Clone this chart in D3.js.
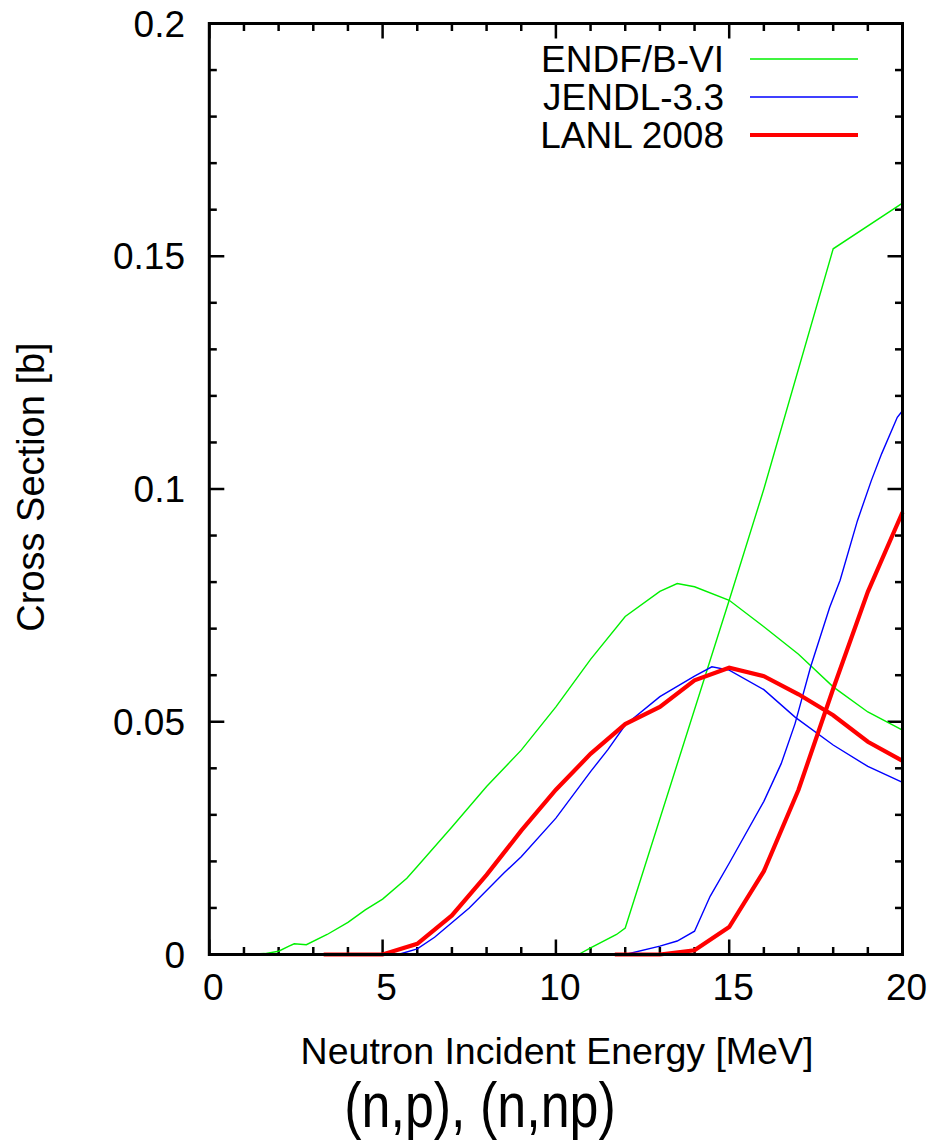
<!DOCTYPE html>
<html>
<head>
<meta charset="utf-8">
<script src="https://cdn.jsdelivr.net/npm/d3@7"></script>
<style>
html,body{margin:0;padding:0;background:#fff;}
svg{display:block;}
text{font-family:"Liberation Sans",Arial,sans-serif;fill:#000;}
</style>
</head>
<body>
<svg id="chart" width="934" height="1147"></svg>
<script>
// ---- data ----
const seriesNames = ["ENDF/B-VI", "JENDL-3.3", "LANL 2008"];
const seriesColors = ["#00f000", "#0000ff", "#ff0000"];

const endfNpE   = [1.0,1.6,2.0,2.3,2.45,2.8,3.4,4.0,4.5,5.0,5.7,6.0,7.0,8.0,9.0,10.0,11.0,12.0,13.0,13.5,14.0,15.0,16.0,17.0,18.0,19.0,20.0];
const endfNpXS  = [0,0.0002,0.0007,0.0018,0.0023,0.0021,0.0043,0.0069,0.0096,0.0119,0.0164,0.0189,0.0274,0.0361,0.0439,0.0532,0.0634,0.0726,0.078,0.0797,0.079,0.0761,0.0704,0.0645,0.0575,0.0521,0.0482];
const endfNnpE  = [10.65,11.0,11.75,12.0,15.0,16.0,18.0,20.0];
const endfNnpXS = [0,0.0014,0.0043,0.0057,0.0761,0.100,0.1516,0.1614];

const jendlNpE   = [5.0,5.5,6.0,6.5,7.5,8.5,9.0,10.0,11.0,11.5,12.0,13.0,14.0,14.5,15.0,16.0,16.9,18.0,19.0,20.0];
const jendlNpXS  = [0,0.0001,0.0012,0.0037,0.010,0.0175,0.021,0.0293,0.0393,0.044,0.0493,0.0554,0.0598,0.0618,0.0611,0.0569,0.051,0.045,0.0404,0.037];
const jendlNnpE  = [12.0,13.0,13.5,14.0,14.45,15.0,16.0,16.5,16.9,17.35,17.9,18.2,18.7,19.1,19.4,19.85,20.0];
const jendlNnpXS = [0,0.0018,0.0029,0.005,0.0125,0.0196,0.0329,0.041,0.0496,0.0618,0.0746,0.0804,0.0932,0.1018,0.1076,0.1154,0.1168];

const lanlNpE   = [3.3,5,6,7,8,9,10,11,12,13,14,15,16,17,18,19,20];
const lanlNpXS  = [0,0,0.0023,0.0084,0.0171,0.0266,0.0354,0.0431,0.0495,0.0532,0.0589,0.0616,0.0598,0.0559,0.0514,0.0457,0.0416];
const lanlNnpE  = [11.7,13,14,15,16,17,18,19,20];
const lanlNnpXS = [0,0,0.0009,0.0059,0.0179,0.0354,0.0571,0.0779,0.095];

const xTicks = [0,5,10,15,20];
const yTicks = [0,0.05,0.1,0.15,0.2];
const yTickLabels = ["0","0.05","0.1","0.15","0.2"];
const xLabel = "Neutron Incident Energy [MeV]";
const yLabel = "Cross Section [b]";
const title = "(n,p), (n,np)";

// ---- layout ----
const L = 209.3, R = 902.5, T = 23.5, B = 954.5;
const svg = d3.select("#chart");
const x = d3.scaleLinear().domain([0,20]).range([L,R]);
const y = d3.scaleLinear().domain([0,0.2]).range([B,T]);

const curves = [
  {E:endfNpE, V:endfNpXS, s:0, w:1.4},
  {E:endfNnpE, V:endfNnpXS, s:0, w:1.4},
  {E:jendlNpE, V:jendlNpXS, s:1, w:1.4},
  {E:jendlNnpE, V:jendlNnpXS, s:1, w:1.4},
  {E:lanlNpE, V:lanlNpXS, s:2, w:4.2},
  {E:lanlNnpE, V:lanlNnpXS, s:2, w:4.2}
];

// ticks (all four sides)
const minorX = d3.range(0,21,1), minorY = d3.range(0,0.2001,0.01);
const tg = svg.append("g").attr("stroke","#000").attr("stroke-width",2.5);
minorX.forEach(v=>{
  const len = (Math.round(v)%5===0)?15:7.5;
  tg.append("line").attr("x1",x(v)).attr("x2",x(v)).attr("y1",B).attr("y2",B-len);
  tg.append("line").attr("x1",x(v)).attr("x2",x(v)).attr("y1",T).attr("y2",T+len);
});
minorY.forEach(v=>{
  const k = Math.round(v*100);
  const len = (k%5===0)?15:7.5;
  tg.append("line").attr("y1",y(v)).attr("y2",y(v)).attr("x1",L).attr("x2",L+len);
  tg.append("line").attr("y1",y(v)).attr("y2",y(v)).attr("x1",R).attr("x2",R-len);
});

// curves
const line = d3.line().x(d=>x(d[0])).y(d=>y(d[1]));
curves.forEach(c=>{
  const pts = c.E.map((e,i)=>[e,c.V[i]]);
  svg.append("path").attr("d",line(pts)).attr("fill","none")
    .attr("stroke",seriesColors[c.s]).attr("stroke-width",c.w)
    .attr("stroke-linejoin","miter");
});

// frame
svg.append("rect").attr("x",L).attr("y",T).attr("width",R-L).attr("height",B-T)
  .attr("fill","none").attr("stroke","#000").attr("stroke-width",3);

// tick labels
svg.append("g").selectAll("text").data(xTicks).join("text")
  .attr("x",d=>x(d)+4).attr("y",B+45).attr("text-anchor","middle")
  .attr("font-size",37).text(d=>d);
svg.append("g").selectAll("text").data(yTicks).join("text")
  .attr("x",185).attr("y",d=>y(d)+13).attr("text-anchor","end")
  .attr("font-size",37).text((d,i)=>yTickLabels[i]);

// axis titles
svg.append("text").attr("x",557).attr("y",1064).attr("text-anchor","middle")
  .attr("font-size",37.5).text(xLabel);
svg.append("text").attr("transform","translate(44,487) rotate(-90)")
  .attr("text-anchor","middle").attr("font-size",38).text(yLabel);
svg.append("text").attr("transform","translate(480,1127) scale(1,1.2)")
  .attr("text-anchor","middle").attr("font-size",52).text(title);

// legend
const lg = svg.append("g");
const legY = [59, 97, 135], legW = [1.4,1.4,4.2];
seriesNames.forEach((n,i)=>{
  lg.append("text").attr("x",724).attr("y",legY[i]+13).attr("text-anchor","end")
    .attr("font-size",37).text(n);
  lg.append("line").attr("x1",750).attr("x2",858).attr("y1",legY[i]).attr("y2",legY[i])
    .attr("stroke",seriesColors[i]).attr("stroke-width",legW[i]);
});
</script>
</body>
</html>
